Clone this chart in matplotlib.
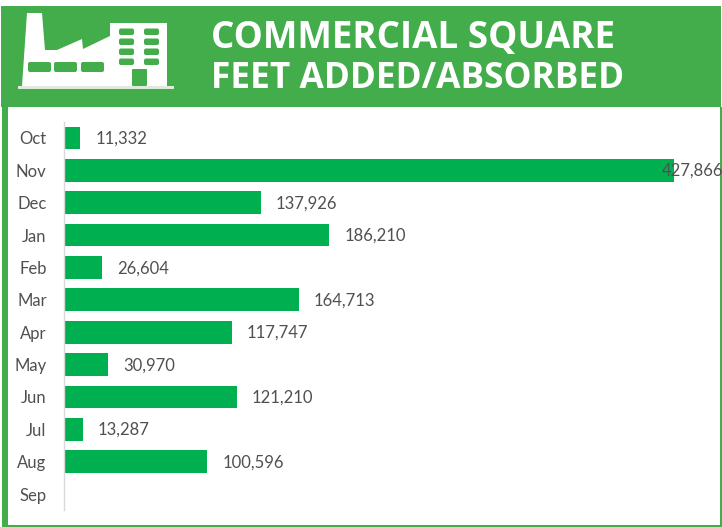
import matplotlib
matplotlib.use('Agg')
from matplotlib import pyplot as plt
from matplotlib.patches import Polygon, Rectangle, FancyBboxPatch

W, H = 722, 527
GREEN = '#43AC4B'
BAR = '#00B050'
TEXT = '#505050'

months = ['Oct', 'Nov', 'Dec', 'Jan', 'Feb', 'Mar', 'Apr', 'May', 'Jun', 'Jul', 'Aug', 'Sep']
values = [11332, 427866, 137926, 186210, 26604, 164713, 117747, 30970, 121210, 13287, 100596, 0]
labels = ['11,332', '427,866', '137,926', '186,210', '26,604', '164,713', '117,747',
          '30,970', '121,210', '13,287', '100,596', '']

plt.rcParams['font.family'] = ['Lato', 'DejaVu Sans']

fig = plt.figure(figsize=(W / 100, H / 100), dpi=100, facecolor='white')

# background layer in pixel coords, y going down
bg = fig.add_axes([0, 0, 1, 1])
bg.set_xlim(0, W)
bg.set_ylim(H, 0)
bg.axis('off')

bg.add_patch(Rectangle((1, 6), 720, 520, fc='white', ec='none'))
bg.add_patch(Rectangle((1, 6), 720, 101, fc=GREEN, ec='none'))
bg.add_patch(Rectangle((2, 107), 6, 419, fc=GREEN, ec='none'))
bg.add_patch(Rectangle((720, 107), 2, 419, fc=GREEN, ec='none'))
bg.add_patch(Rectangle((2, 524.5), 720, 2, fc=GREEN, ec='none'))

# factory icon
factory = [(22, 86), (27, 13), (42, 13), (45, 50), (57, 50), (82, 39), (83, 49),
           (110, 36), (110, 23), (167, 23), (167, 86)]
bg.add_patch(Polygon(factory, closed=True, fc='white', ec='none'))
bg.add_patch(Rectangle((18, 86), 156, 3, fc='#DDEBDD', ec='none'))
for wx in (119, 144):
    for wy in (29, 39, 49, 59):
        bg.add_patch(FancyBboxPatch((wx + 2, wy + 1.5), 11, 2.5, boxstyle='round,pad=2',
                                    fc=GREEN, ec='none'))
for wx in (28, 54, 81):
    bg.add_patch(FancyBboxPatch((wx + 2, 64), 19, 6, boxstyle='round,pad=2',
                                fc=GREEN, ec='none'))
bg.add_patch(FancyBboxPatch((133, 70), 13, 15, boxstyle='round,pad=1', fc=GREEN, ec='none'))

# each line gets its own size so both widths land on the reference
bg.text(211, 38, 'COMMERCIAL SQUARE', family='Open Sans', color='white', fontsize=26.5,
        fontweight='bold', va='center', ha='left')
bg.text(211, 79.5, 'FEET ADDED/ABSORBED', family='Open Sans', color='white', fontsize=25.4,
        fontweight='bold', va='center', ha='left')

# chart
left, right, top, bottom = 64, 674, 121.8, 510.2
ax = fig.add_axes([left / W, 1 - bottom / H, (right - left) / W, (bottom - top) / H])
ax.patch.set_alpha(0)
pos = list(range(len(months)))
ax.barh(pos, values, height=0.7, color=BAR)
ax.set_xlim(0, 427866)
ax.set_ylim(11.5, -0.5)
ax.set_yticks(pos)
ax.set_yticklabels(months, fontsize=12, color=TEXT)
ax.tick_params(axis='y', length=0, pad=12.5)
ax.tick_params(axis='x', bottom=False, labelbottom=False)
for s in ('top', 'right', 'bottom'):
    ax.spines[s].set_visible(False)
ax.spines['left'].set_color('#D9D9D9')
ax.spines['left'].set_linewidth(1)

for p, v, lab in zip(pos, values, labels):
    # the Nov label sits over the bar end
    dx = -9 if v == max(values) else 10.8
    ax.annotate(lab, (v, p), xytext=(dx, -0.5), textcoords='offset points', fontsize=12,
                color=TEXT, va='center', ha='left', annotation_clip=False)

fig.savefig('out.png', dpi=100)
